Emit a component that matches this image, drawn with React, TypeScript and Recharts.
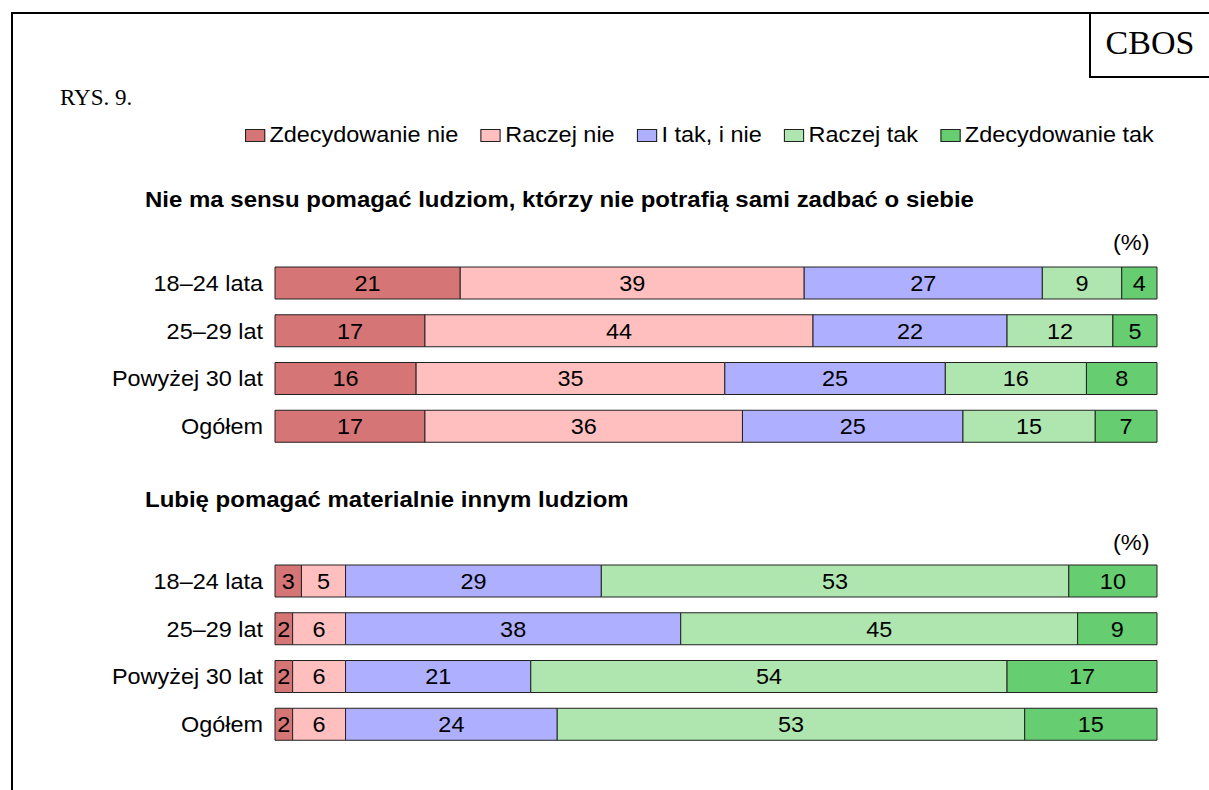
import { BarChart, Bar, XAxis, YAxis, LabelList } from 'recharts';

const categories = ['18–24 lata', '25–29 lat', 'Powyżej 30 lat', 'Ogółem'];
const seriesNames = ['Zdecydowanie nie', 'Raczej nie', 'I tak, i nie', 'Raczej tak', 'Zdecydowanie tak'];
const seriesColors = ['#d57575', '#ffbfbf', '#afafff', '#afe6af', '#66cd70'];

// pytanie 1
const sensZdecNie = [21, 17, 16, 17];
const sensRaczejNie = [39, 44, 35, 36];
const sensITakINie = [27, 22, 25, 25];
const sensRaczejTak = [9, 12, 16, 15];
const sensZdecTak = [4, 5, 8, 7];

// pytanie 2
const lubieZdecNie = [3, 2, 2, 2];
const lubieRaczejNie = [5, 6, 6, 6];
const lubieITakINie = [29, 38, 21, 24];
const lubieRaczejTak = [53, 45, 54, 53];
const lubieZdecTak = [10, 9, 17, 15];

const title1 = 'Nie ma sensu pomagać ludziom, którzy nie potrafią sami zadbać o siebie';
const title2 = 'Lubię pomagać materialnie innym ludziom';

const keys = ['s0', 's1', 's2', 's3', 's4'];

const buildRows = (cols: number[][]) =>
    categories.map((name, i) => {
        const row: any = { name };
        cols.forEach((c, j) => { row[keys[j]] = c[i]; });
        return row;
    });

const data1 = buildRows([sensZdecNie, sensRaczejNie, sensITakINie, sensRaczejTak, sensZdecTak]);
const data2 = buildRows([lubieZdecNie, lubieRaczejNie, lubieITakINie, lubieRaczejTak, lubieZdecTak]);

const font = 'Arial, "Liberation Sans", sans-serif';
const serif = '"Liberation Serif", "Times New Roman", serif';
const stretch = 1.065;

const AgeTick = ({ x, y, payload }: any) => (
    <text transform={`translate(${x},${y}) scale(${stretch},1)`} textAnchor="end" dy="0.36em"
        fill="#000" fontSize={22} fontFamily={font}>{payload.value}</text>
);

const ValueLabel = ({ x, y, width, height, value }: any) => (
    <text transform={`translate(${x + width / 2},${y + height / 2}) scale(${stretch},1)`}
        textAnchor="middle" dy="0.36em" fill="#000" fontSize={22} fontFamily={font}>{value}</text>
);

const Chart = ({ data, top }: any) => (
    <div style={{ position: 'absolute', left: 0, top }}>
        <BarChart layout="vertical" width={1209} height={191} data={data}
            margin={{ top: 0, right: 52, bottom: 0, left: 0 }} barCategoryGap={0}>
            <XAxis type="number" domain={[0, 100]} hide />
            <YAxis type="category" dataKey="name" width={275} axisLine={false} tickLine={false}
                tickSize={0} tickMargin={12} tick={<AgeTick />} />
            {keys.map((k, j) => (
                <Bar key={k} dataKey={k} stackId="a" fill={seriesColors[j]} stroke="#222"
                    strokeWidth={1} barSize={32} isAnimationActive={false}>
                    <LabelList dataKey={k} content={<ValueLabel />} />
                </Bar>
            ))}
        </BarChart>
    </div>
);

const textBox = (left: number, top: number, scale: number, extra: any = {}) => ({
    position: 'absolute' as const, left, top, fontSize: 22, lineHeight: '26px', whiteSpace: 'nowrap' as const,
    transform: `scaleX(${scale})`, transformOrigin: 'left center', ...extra,
});

export default function App() {
    return (
        <div style={{ position: 'absolute', left: 0, top: 0, width: 1209, height: 790, background: '#fff', overflow: 'hidden', fontFamily: font }}>
            {/* ramka */}
            <div style={{ position: 'absolute', left: 11, top: 12, width: 1220, height: 800, borderLeft: '2px solid #000', borderTop: '2px solid #000' }} />
            <div style={{ position: 'absolute', left: 1089, top: 12, width: 140, height: 64, borderLeft: '2px solid #000', borderBottom: '2px solid #000' }} />
            <div style={{ position: 'absolute', left: 1091, top: 24, width: 118, textAlign: 'center', fontFamily: serif, fontSize: 34, lineHeight: '38px' }}>CBOS</div>
            <div style={{ position: 'absolute', left: 60, top: 85, fontFamily: serif, fontSize: 23, lineHeight: '26px' }}>RYS. 9.</div>

            {/* legenda */}
            <div style={{ ...textBox(245, 122, stretch), display: 'flex' }}>
                {seriesNames.map((n, j) => (
                    <div key={n} style={{ display: 'flex', alignItems: 'center', marginRight: 21 }}>
                        <span style={{ display: 'inline-block', width: 17, height: 11, background: seriesColors[j], border: '1px solid #222', marginRight: 4 }} />
                        <span>{n}</span>
                    </div>
                ))}
            </div>

            <div style={textBox(145, 187, 1.09, { fontWeight: 'bold' })}>{title1}</div>
            <div style={textBox(1113, 230, stretch)}>(%)</div>
            <Chart data={data1} top={259} />

            <div style={textBox(145, 487, 1.09, { fontWeight: 'bold' })}>{title2}</div>
            <div style={textBox(1113, 530, stretch)}>(%)</div>
            <Chart data={data2} top={557} />
        </div>
    );
}
